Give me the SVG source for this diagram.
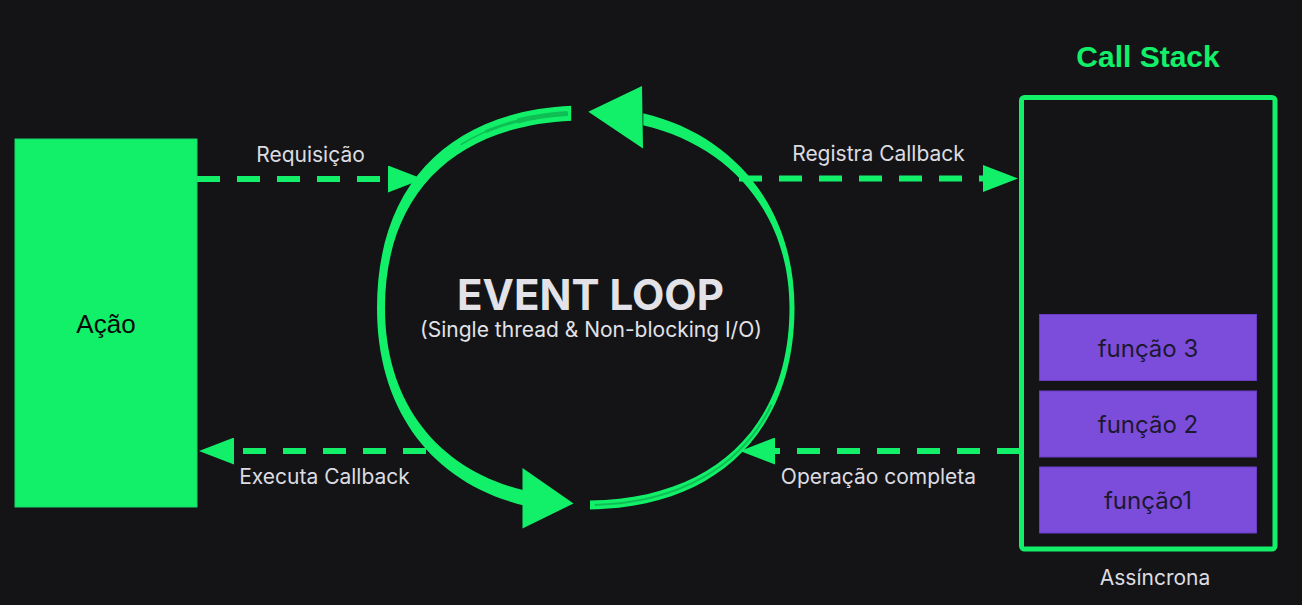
<svg xmlns="http://www.w3.org/2000/svg" width="1302" height="605" viewBox="0 0 1302 605">
<defs>
<style>
.lbl{font-family:Inter,Roboto,"Liberation Sans",sans-serif;font-size:21px;fill:#dcdce0;text-anchor:middle}
.dash{fill:none;stroke:#12f06a;stroke-width:6;stroke-dasharray:23 17;marker-end:url(#ah)}
.green{fill:#12f06a}
.ring{fill:#12f06a;fill-rule:evenodd}
.dk{fill:none;stroke:#0fbf55;stroke-linecap:butt}
.fn{fill:#7c4ddb;stroke:#6a3cc4;stroke-width:1}
.fnt{font-family:Inter,Roboto,"Liberation Sans",sans-serif;font-size:24px;fill:#1c1830;text-anchor:middle}
</style>
<marker id="ah" markerUnits="userSpaceOnUse" viewBox="0 0 35 27" refX="0" refY="13.5" markerWidth="35" markerHeight="27" orient="auto">
<path d="M0,0 L35,13.5 L0,27 Z" fill="#12f06a"/>
</marker>
<clipPath id="clipL"><polygon points="0,0 571.2,0 571.2,308 523.4,308 523.4,605 0,605"/></clipPath>
<clipPath id="clipR"><polygon points="590,605 1302,605 1302,0 643.3,0 643.3,308 590,308"/></clipPath>
</defs>
<rect x="0" y="0" width="1302" height="605" fill="#141417"/>

<g id="acao">
<rect x="15" y="139" width="182" height="368" class="green" stroke="#14d866" stroke-width="1"/>
<text x="106" y="333" font-family="'Liberation Sans',Arial,sans-serif" font-size="26" fill="#0a0a0a" text-anchor="middle">Ação</text>
</g>

<g id="connectors">
<path class="dash" d="M197,179 H388"/>
<path class="dash" d="M739,178.5 H983"/>
<path class="dash" d="M1020,451 H775"/>
<path class="dash" d="M426,451 H234"/>
<text class="lbl" x="310.5" y="162">Requisição</text>
<text class="lbl" x="878.5" y="161">Registra Callback</text>
<text class="lbl" x="324.5" y="484">Executa Callback</text>
<text class="lbl" x="878.5" y="484">Operação completa</text>
</g>

<g id="event-loop">
<path class="ring" clip-path="url(#clipL)" d="M586.5,105.5 C454.5,105.5 377,180.4 377,308 C377,432.7 458.7,512.5 586.5,512.5 C716.4,512.5 796,434.8 796,308 C796,188.5 710.1,105.5 586.5,105.5 Z M586.5,120.5 C459.6,120.5 385,189.9 385,308 C385,423.6 463.6,497.5 586.5,497.5 C711.4,497.5 788,425.5 788,308 C788,197.4 705.4,120.5 586.5,120.5 Z"/>
<path class="dk" pathLength="100" stroke-width="5" stroke-dasharray="0 0.6 9 200" d="M571.2,113.4 C451.0,118.9 381,190.1 381,308 C381,406.6 434.9,476.0 523.4,497.7"/>
<path class="dk" pathLength="100" stroke-width="3" stroke-dasharray="0 0.6 15 200" d="M571.2,113.4 C451.0,118.9 381,190.1 381,308 C381,406.6 434.9,476.0 523.4,497.7"/>
<path class="dk" pathLength="100" stroke-width="1.5" stroke-dasharray="0 0.6 20 200" d="M571.2,113.4 C451.0,118.9 381,190.1 381,308 C381,406.6 434.9,476.0 523.4,497.7"/>
<polygon class="green" points="522.5,468 522.5,528.5 573.5,503.5"/>

<path class="ring" clip-path="url(#clipR)" d="M586.5,107 C455.5,107 378.5,181.4 378.5,308 C378.5,430.9 459.6,509.5 586.5,509.5 C715.5,509.5 794.5,432.9 794.5,308 C794.5,189.4 709.2,107 586.5,107 Z M586.5,119 C458.6,119 383.5,188.9 383.5,308 C383.5,425.4 462.7,500.5 586.5,500.5 C712.4,500.5 789.5,427.4 789.5,308 C789.5,196.5 706.3,119 586.5,119 Z"/>
<path class="dk" pathLength="100" stroke-width="2" stroke-dasharray="0 0.8 37 200" d="M590,505 C715.3,503.6 792,429 792,308 C792,211.9 733.2,140.3 643.3,119.3"/>
<polygon class="green" points="588.3,111.7 642,86 643,148.5"/>

<text x="590.5" y="310" font-family="Inter,Roboto,'Liberation Sans',sans-serif" font-weight="bold" font-size="42" fill="#e2e2e8" text-anchor="middle">EVENT LOOP</text>
<text x="591" y="337" font-family="Inter,Roboto,'Liberation Sans',sans-serif" font-size="21" fill="#e2e2e8" text-anchor="middle">(Single thread &amp; Non-blocking I/O)</text>
</g>

<g id="call-stack">
<text x="1148" y="67" font-family="'Liberation Sans',Arial,sans-serif" font-weight="bold" font-size="30" fill="#12f06a" text-anchor="middle">Call Stack</text>
<rect x="1021.5" y="97.5" width="253.5" height="451.5" rx="3" fill="none" stroke="#12f06a" stroke-width="5"/>
<text class="lbl" x="1155" y="585" font-size="17.8">Assíncrona</text>
</g>

<g id="funcao3">
<rect class="fn" x="1039.5" y="314.5" width="217" height="66"/>
<text class="fnt" x="1148" y="356.5">função 3</text>
</g>
<g id="funcao2">
<rect class="fn" x="1039.5" y="391" width="217" height="66"/>
<text class="fnt" x="1148" y="433">função 2</text>
</g>
<g id="funcao1">
<rect class="fn" x="1039.5" y="467" width="217" height="66"/>
<text class="fnt" x="1148" y="509">função1</text>
</g>
</svg>
